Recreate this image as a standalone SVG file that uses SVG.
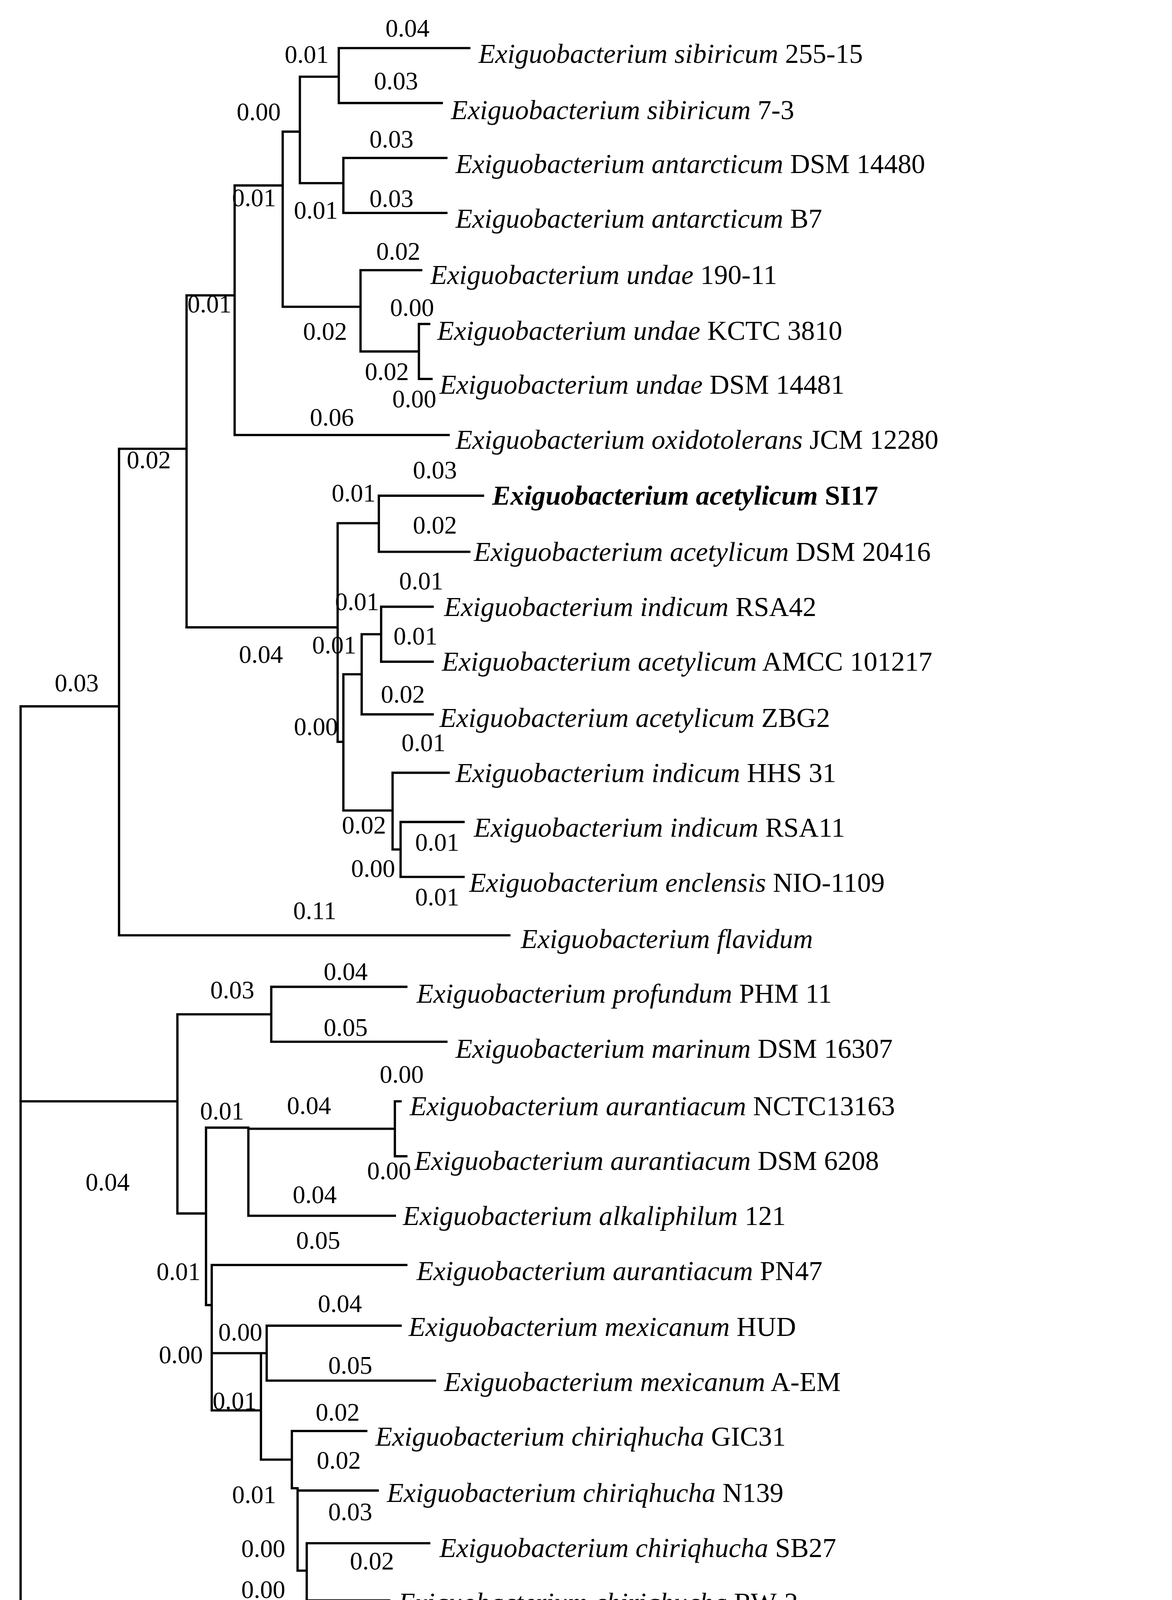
<svg xmlns="http://www.w3.org/2000/svg" width="3001" height="4631" viewBox="0 0 3001 4631">
<style>
.e{stroke:#000;stroke-width:2;fill:none;stroke-linecap:square}
.t{font-family:"Liberation Serif",serif;font-size:24px;fill:#000}
.i{font-style:italic}
.l{font-family:"Liberation Serif",serif;font-size:22px;fill:#000;text-anchor:middle}
</style>
<rect width="3001" height="4631" fill="#fff"/>
<g transform="scale(2.9307)">
<g id="connectors" class="e">
<path d="M18 617V1445H530M18 617H104M104 392V817M104 817H445M104 392H163M163 258V548M163 258H205M205 162V380M205 380H392M205 162H247M247 115V268M247 115H262M262 67V160M262 67H296M296 42V90M296 42H410M296 90H386M262 160H300M300 138V186M300 138H390M300 186H390M247 268H315M315 236V307M315 236H368M315 307H366M366 283V331M366 283H375M366 331H377"/>
<path d="M163 548H295M295 457V648M295 457H331M331 433V482M331 433H422M331 482H410M295 648H300M300 589V708M300 589H316M316 554V624M316 554H333M333 530V578M333 530H378M333 578H378M316 624H378M300 708H343M343 675V742M343 675H392M343 742H350M350 718V766M350 718H405M350 766H405"/>
<path d="M18 962H155M155 886V1060M155 886H237M237 862V910M237 862H355M237 910H390M155 1060H180M180 985V1140M180 985H217M217 986V1062M217 986H345M345 962V1010M345 962H350M345 1010H355M217 1062H345M180 1140H185M185 1105V1232M185 1105H355M185 1182H233M233 1158V1206M233 1158H350M233 1206H380M185 1232H228M228 1182V1275M228 1182H233M228 1275H255M255 1250V1300M255 1250H320M255 1300H260M260 1302V1372M260 1302H330M260 1372H268M268 1348V1398M268 1348H375M268 1398H340"/>
<path d="M172 1523H328M172 1512V1534M328 1512V1534"/>
</g>
<g id="leaves" class="t">
<text x="418" y="55"><tspan class="i">Exiguobacterium sibiricum</tspan> 255-15</text>
<text x="394" y="104"><tspan class="i">Exiguobacterium sibiricum</tspan> 7-3</text>
<text x="398" y="151"><tspan class="i">Exiguobacterium antarcticum</tspan> DSM 14480</text>
<text x="398" y="199"><tspan class="i">Exiguobacterium antarcticum</tspan> B7</text>
<text x="376" y="248"><tspan class="i">Exiguobacterium undae</tspan> 190-11</text>
<text x="382" y="297"><tspan class="i">Exiguobacterium undae</tspan> KCTC 3810</text>
<text x="384" y="344"><tspan class="i">Exiguobacterium undae</tspan> DSM 14481</text>
<text x="398" y="392"><tspan class="i">Exiguobacterium oxidotolerans</tspan> JCM 12280</text>
<text x="430" y="441" font-weight="bold"><tspan class="i">Exiguobacterium acetylicum</tspan> SI17</text>
<text x="414" y="490"><tspan class="i">Exiguobacterium acetylicum</tspan> DSM 20416</text>
<text x="388" y="538"><tspan class="i">Exiguobacterium indicum</tspan> RSA42</text>
<text x="386" y="586"><tspan class="i">Exiguobacterium acetylicum</tspan> AMCC 101217</text>
<text x="384" y="635"><tspan class="i">Exiguobacterium acetylicum</tspan> ZBG2</text>
<text x="398" y="683"><tspan class="i">Exiguobacterium indicum</tspan> HHS 31</text>
<text x="414" y="731"><tspan class="i">Exiguobacterium indicum</tspan> RSA11</text>
<text x="410" y="779"><tspan class="i">Exiguobacterium enclensis</tspan> NIO-1109</text>
<text x="455" y="828"><tspan class="i">Exiguobacterium flavidum</tspan></text>
<text x="364" y="876"><tspan class="i">Exiguobacterium profundum</tspan> PHM 11</text>
<text x="398" y="924"><tspan class="i">Exiguobacterium marinum</tspan> DSM 16307</text>
<text x="358" y="974"><tspan class="i">Exiguobacterium aurantiacum</tspan> NCTC13163</text>
<text x="362" y="1022"><tspan class="i">Exiguobacterium aurantiacum</tspan> DSM 6208</text>
<text x="352" y="1070"><tspan class="i">Exiguobacterium alkaliphilum</tspan> 121</text>
<text x="364" y="1118"><tspan class="i">Exiguobacterium aurantiacum</tspan> PN47</text>
<text x="357" y="1167"><tspan class="i">Exiguobacterium mexicanum</tspan> HUD</text>
<text x="388" y="1215"><tspan class="i">Exiguobacterium mexicanum</tspan> A-EM</text>
<text x="328" y="1263"><tspan class="i">Exiguobacterium chiriqhucha</tspan> GIC31</text>
<text x="338" y="1312"><tspan class="i">Exiguobacterium chiriqhucha</tspan> N139</text>
<text x="384" y="1360"><tspan class="i">Exiguobacterium chiriqhucha</tspan> SB27</text>
<text x="348" y="1408"><tspan class="i">Exiguobacterium chiriqhucha</tspan> RW-2</text>
<text x="542" y="1455"><tspan class="i">Bacillus subtilis</tspan> subsp <tspan class="i">subtilis</tspan> 6051-HGW</text>
</g>
<g id="branch-labels" class="l">
<text x="356" y="32">0.04</text><text x="268" y="55">0.01</text><text x="346" y="78">0.03</text>
<text x="226" y="105">0.00</text><text x="342" y="129">0.03</text><text x="222" y="180">0.01</text>
<text x="276" y="191">0.01</text><text x="342" y="181">0.03</text><text x="183" y="273">0.01</text>
<text x="348" y="227">0.02</text><text x="360" y="276">0.00</text><text x="284" y="297">0.02</text>
<text x="338" y="332">0.02</text><text x="362" y="356">0.00</text><text x="290" y="372">0.06</text>
<text x="130" y="409">0.02</text><text x="380" y="418">0.03</text><text x="309" y="438">0.01</text>
<text x="380" y="466">0.02</text><text x="368" y="515">0.01</text><text x="312" y="533">0.01</text>
<text x="228" y="579">0.04</text><text x="292" y="571">0.01</text><text x="363" y="563">0.01</text>
<text x="67" y="604">0.03</text><text x="352" y="614">0.02</text><text x="276" y="642">0.00</text>
<text x="370" y="656">0.01</text><text x="318" y="728">0.02</text><text x="326" y="766">0.00</text>
<text x="382" y="743">0.01</text><text x="382" y="791">0.01</text><text x="275" y="803">0.11</text>
<text x="302" y="856">0.04</text><text x="203" y="872">0.03</text><text x="302" y="905">0.05</text>
<text x="351" y="946">0.00</text><text x="270" y="973">0.04</text><text x="194" y="978">0.01</text>
<text x="340" y="1030">0.00</text><text x="94" y="1040">0.04</text><text x="275" y="1051">0.04</text>
<text x="278" y="1091">0.05</text><text x="156" y="1118">0.01</text><text x="297" y="1146">0.04</text>
<text x="210" y="1171">0.00</text><text x="158" y="1191">0.00</text><text x="306" y="1200">0.05</text>
<text x="295" y="1241">0.02</text><text x="205" y="1231">0.01</text><text x="296" y="1283">0.02</text>
<text x="222" y="1313">0.01</text><text x="306" y="1328">0.03</text><text x="230" y="1360">0.00</text>
<text x="325" y="1371">0.02</text><text x="230" y="1396">0.00</text><text x="313" y="1421">0.00</text>
<text x="281" y="1478">0.16</text><text x="245" y="1565">0.05</text>
</g>
</g>
</svg>
